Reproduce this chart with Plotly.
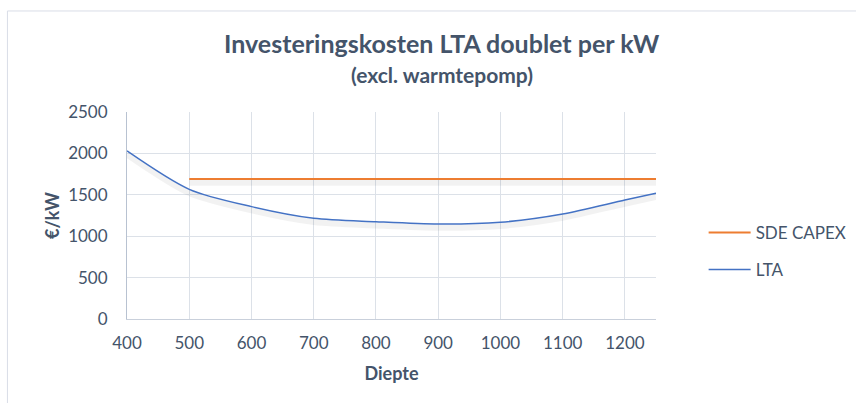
import plotly.graph_objects as go

depth = [400, 500, 600, 700, 800, 900, 1000, 1100, 1200, 1250]
lta = [2030, 1566, 1357, 1216, 1175, 1147, 1168, 1268, 1437, 1518]
sde_depth = [500, 1250]
sde_capex = [1690, 1690]

x_ticks = [400, 500, 600, 700, 800, 900, 1000, 1100, 1200]
y_ticks = [0, 500, 1000, 1500, 2000, 2500]

TXT = "#44546A"
FONT = "Lato, Open Sans, sans-serif"

fig = go.Figure()
# soft shadows under the lines
fig.add_trace(go.Scatter(x=sde_depth, y=[v - 45 for v in sde_capex], mode="lines",
                         line=dict(color="rgba(0,0,0,0.05)", width=6),
                         showlegend=False, hoverinfo="skip"))
fig.add_trace(go.Scatter(x=depth, y=[v - 45 for v in lta], mode="lines",
                         line=dict(color="rgba(0,0,0,0.05)", width=6, shape="spline", smoothing=0.8),
                         showlegend=False, hoverinfo="skip"))
fig.add_trace(go.Scatter(x=sde_depth, y=sde_capex, mode="lines", name="SDE CAPEX",
                         legendgroup="a", line=dict(color="#ED7D31", width=2)))
fig.add_trace(go.Scatter(x=depth, y=lta, mode="lines", name="LTA", legendgroup="b",
                         line=dict(color="#4472C4", width=1.5, shape="spline", smoothing=0.8)))

fig.update_layout(
    width=856, height=403,
    margin=dict(l=127, r=200, t=112, b=84),
    paper_bgcolor="white", plot_bgcolor="white",
    font=dict(family=FONT, color=TXT, size=17),
    legend=dict(xref="container", yref="container", x=0.822, y=0.376,
                xanchor="left", yanchor="middle",
                font=dict(size=17, color=TXT), tracegroupgap=12, itemwidth=42),
    showlegend=True,
)
fig.add_annotation(text="<b>Investeringskosten LTA doublet per kW</b>", xref="paper", yref="paper",
                   x=0.595, y=1.333, xanchor="center", yanchor="middle", showarrow=False,
                   font=dict(size=25, color=TXT, family=FONT))
fig.add_annotation(text="<b>(excl. warmtepomp)</b>", xref="paper", yref="paper",
                   x=0.595, y=1.179, xanchor="center", yanchor="middle", showarrow=False,
                   font=dict(size=21, color=TXT, family=FONT))

fig.update_xaxes(range=[400, 1250], tickvals=x_ticks, showgrid=True, gridcolor="#DCE1E8",
                 gridwidth=1, showline=True, linecolor="#C9D0DB", zeroline=False,
                 ticks="outside", ticklen=9, tickcolor="rgba(0,0,0,0)", automargin=False,
                 tickfont=dict(size=17, color=TXT),
                 title=dict(text="<b>Diepte</b>", font=dict(size=18, color=TXT), standoff=14))
fig.update_yaxes(range=[0, 2500], tickvals=y_ticks, showgrid=True, gridcolor="#DCE1E8",
                 gridwidth=1, showline=True, linecolor="#B8C2D1", zeroline=False,
                 ticks="outside", ticklen=15, tickcolor="rgba(0,0,0,0)", automargin=False,
                 tickfont=dict(size=17, color=TXT),
                 title=dict(text="<b>€/kW</b>", font=dict(size=18, color=TXT), standoff=3))

# outer chart frame
fig.add_shape(type="line", xref="paper", yref="paper", x0=-0.226, x1=1.5, y0=1.488, y1=1.488,
              line=dict(color="#D9DEE7", width=1))
fig.add_shape(type="line", xref="paper", yref="paper", x0=-0.226, x1=-0.226, y0=1.488, y1=-0.5,
              line=dict(color="#D9DEE7", width=1))

fig.write_html("out.html", config={"displayModeBar": False},
               post_script="document.body.style.margin='0';")
